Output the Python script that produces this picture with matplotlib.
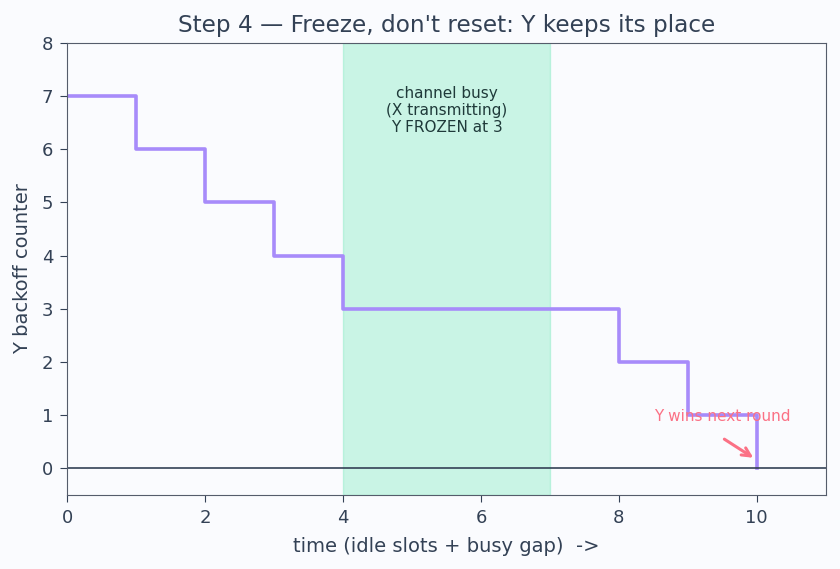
import matplotlib.pyplot as plt

# backoff counter of station Y per slot
slots = [0, 1, 2, 3, 4, 5, 6, 7, 8, 9, 10]
counter = [7, 6, 5, 4, 3, 3, 3, 3, 2, 1, 0]
busy_start, busy_end = 4, 7

bg = '#fafbfe'
ink = '#334155'

fig, ax = plt.subplots(figsize=(8.4, 5.69), dpi=100)
fig.patch.set_facecolor(bg)
ax.set_facecolor(bg)

# busy period
ax.axvspan(busy_start, busy_end, color='#6ee7b7', alpha=0.35, lw=1)
ax.text(5.5, 7.18, "channel busy\n(X transmitting)\nY FROZEN at 3", ha='center', va='top',
        fontsize=11, color='#1f3a3a', linespacing=1.15)

ax.step(slots, counter, where='post', color='#a78bfa', lw=2.6)
ax.axhline(0, color=ink, lw=1.2)

ax.text(9.5, 0.98, "Y wins next round", ha='center', va='center', fontsize=11, color='#fb7185')
ax.annotate("", xy=(9.95, 0.2), xytext=(9.53, 0.55),
            arrowprops=dict(arrowstyle='->', color='#fb7185', lw=2.2, mutation_scale=15,
                            shrinkA=0, shrinkB=0))

ax.set_xlim(0, 11)
ax.set_ylim(-0.5, 8)
ax.set_title("Step 4 \u2014 Freeze, don't reset: Y keeps its place", fontsize=16.7, color=ink, pad=8)
ax.set_xlabel("time (idle slots + busy gap)  ->", fontsize=14, color=ink, labelpad=7)
ax.set_ylabel("Y backoff counter", fontsize=14, color=ink, labelpad=7)
ax.tick_params(colors=ink, labelsize=13, length=5, pad=5)
for s in ax.spines.values():
    s.set_color('#555c6b')

fig.subplots_adjust(left=0.08, right=0.983, top=0.925, bottom=0.13)
fig.savefig('out.png', facecolor=bg)
